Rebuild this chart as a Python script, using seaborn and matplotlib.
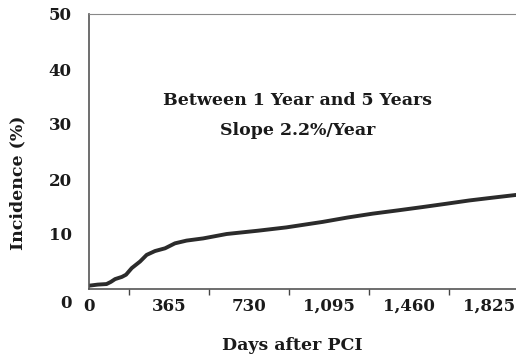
import matplotlib
matplotlib.use("Agg")
import matplotlib.pyplot as plt
import seaborn as sns
import pandas as pd
import numpy as np
from matplotlib.ticker import MultipleLocator
import matplotlib.transforms as mtransforms

days = [0, 40, 80, 100, 119, 150, 169, 195, 233, 263, 301, 347, 392, 445, 521,
        628, 771, 900, 1066, 1180, 1294, 1410, 1522, 1630, 1735, 1840, 1948]
incidence = [0.6, 0.8, 0.9, 1.3, 1.8, 2.2, 2.6, 3.8, 5.0, 6.2, 6.9, 7.4, 8.3, 8.8, 9.2,
             10.0, 10.6, 11.2, 12.2, 13.0, 13.7, 14.3, 14.9, 15.5, 16.1, 16.6, 17.1]
xticks = [0, 365, 730, 1095, 1460, 1825]
xticklabels = ["0", "365", "730", "1,095", "1,460", "1,825"]
yticks = [0, 10, 20, 30, 40, 50]

df = pd.DataFrame({"days": days, "incidence": incidence})

sns.set_theme(style="white")
plt.rcParams["font.family"] = ["DejaVu Serif"]
plt.rcParams["font.weight"] = "bold"

fig = plt.figure(figsize=(5.16, 3.61), dpi=100)
ax = fig.add_axes([89/516, 1-289/361, 1-89/516, (289-14)/361])

sns.lineplot(data=df, x="days", y="incidence", ax=ax, color="#2b2b2b", linewidth=2.8)

ax.set_xlim(0, 1948)
ax.set_ylim(0, 50)
ax.set_xticks(xticks)
ax.set_xticklabels(xticklabels)
ax.xaxis.set_minor_locator(MultipleLocator(182.5))
ax.set_yticks(yticks)

for s in ["left", "bottom"]:
    ax.spines[s].set_color("#555555")
    ax.spines[s].set_linewidth(1.2)
ax.spines["right"].set_visible(False)
ax.spines["top"].set_color("#888888")
ax.spines["top"].set_linewidth(0.8)
ax.spines["top"].set_linestyle((0, (1, 1)))

ax.tick_params(axis="both", which="both", direction="out", color="#444444", width=1.0)
ax.tick_params(axis="y", which="major", length=6.5, pad=6, labelsize=12, labelcolor="#1a1a1a")
ax.tick_params(axis="x", which="major", length=5.5, pad=1, labelsize=12, labelcolor="#1a1a1a")
ax.tick_params(axis="x", which="minor", length=4.5, bottom=True)
ax.tick_params(axis="y", which="minor", left=False)

for lab in ax.get_yticklabels() + ax.get_xticklabels():
    lab.set_fontweight("bold")

# drop the y "0" label a bit like the reference
ylabs = ax.get_yticklabels()
offset = mtransforms.ScaledTranslation(0, -13/100, fig.dpi_scale_trans)
ylabs[0].set_transform(ylabs[0].get_transform() + offset)

ax.set_xlabel("Days after PCI", fontsize=12.5, fontweight="bold", color="#1a1a1a")
ax.set_ylabel("Incidence (%)", fontsize=12.5, fontweight="bold", color="#1a1a1a")
ax.xaxis.set_label_coords((292-89)/(516-89), -(337-289)/275)
ax.yaxis.set_label_coords(-(89-26)/(516-89), (289-183)/275)

ax.text(0.489, (289-116)/275, "Between 1 Year and 5 Years\nSlope 2.2%/Year", transform=ax.transAxes,
        ha="center", va="center", fontsize=12.5, fontweight="bold", color="#1a1a1a",
        linespacing=2.0)

fig.savefig("out.png", dpi=100)
